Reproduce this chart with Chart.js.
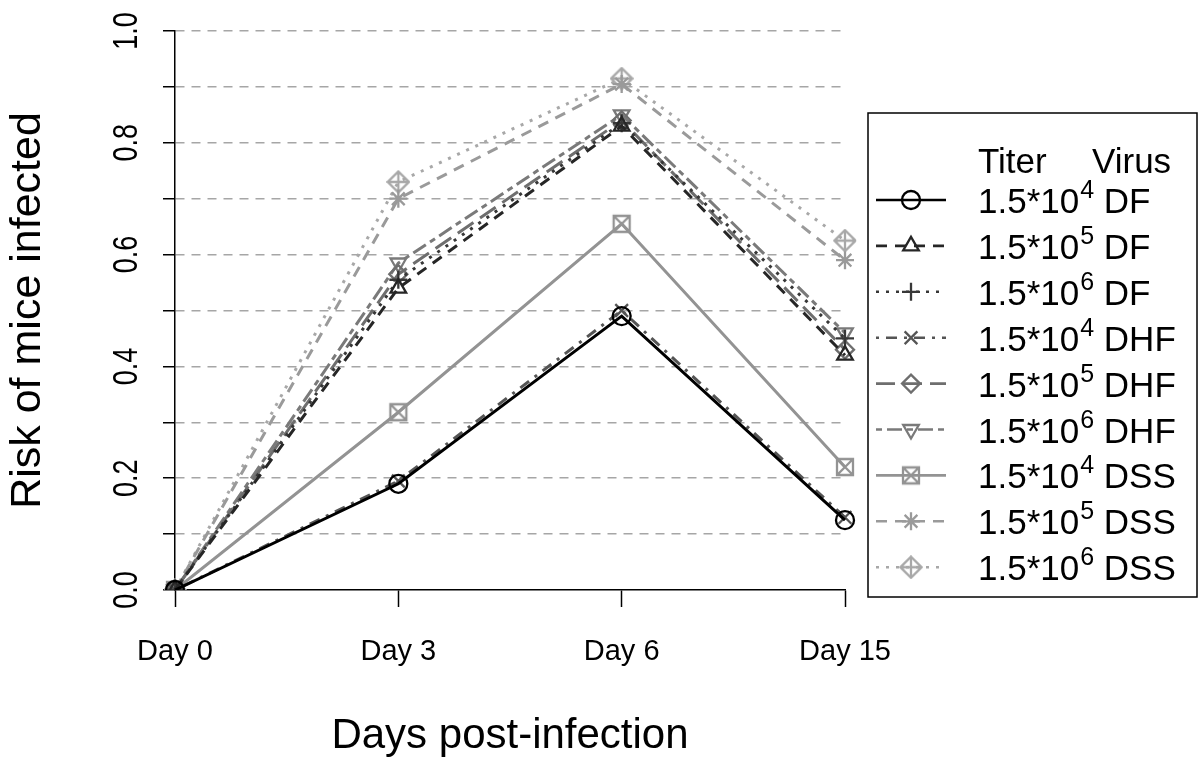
<!DOCTYPE html>
<html>
<head>
<meta charset="utf-8">
<script src="https://cdn.jsdelivr.net/npm/chart.js@4.4.1/dist/chart.umd.min.js"></script>
<style>
  html, body { margin: 0; padding: 0; background: #fff; }
  #chartBox { width: 1200px; height: 763px; }
</style>
</head>
<body>
<div id="chartBox"><canvas id="risk-chart" width="1200" height="763"></canvas></div>
<script>
// x categories and y tick labels
const days = ['Day 0', 'Day 3', 'Day 6', 'Day 15'];
const yTickLabels = ['0.0', '0.2', '0.4', '0.6', '0.8', '1.0'];

// risk of infection
const df1e4 = [0, 0.19, 0.49, 0.125];
const df1e5 = [0, 0.54, 0.83, 0.42];
const df1e6 = [0, 0.555, 0.835, 0.45];
const dhf1e4 = [0, 0.195, 0.50, 0.13];
const dhf1e5 = [0, 0.565, 0.84, 0.43];
const dhf1e6 = [0, 0.585, 0.85, 0.46];
const dss1e4 = [0, 0.318, 0.655, 0.22];
const dss1e5 = [0, 0.70, 0.905, 0.59];
const dss1e6 = [0, 0.73, 0.915, 0.625];

// legend text
const titerExp = ['4', '5', '6', '4', '5', '6', '4', '5', '6'];
const virusNames = ['DF', 'DF', 'DF', 'DHF', 'DHF', 'DHF', 'DSS', 'DSS', 'DSS'];

const FONT = "'Liberation Sans', Arial, sans-serif";

// R style symbols that chart.js does not have
function makeSymbol(kind, color) {
    const c = document.createElement('canvas');
    c.width = 24; c.height = 24;
    const g = c.getContext('2d');
    g.strokeStyle = color;
    g.lineWidth = 2.3;
    g.beginPath();
    if (kind == 'boxX') {
        g.rect(4, 4, 16, 16);
        g.moveTo(4, 4); g.lineTo(20, 20);
        g.moveTo(20, 4); g.lineTo(4, 20);
    } else {
        g.moveTo(12, 1.5); g.lineTo(22.5, 12); g.lineTo(12, 22.5); g.lineTo(1.5, 12); g.closePath();
        g.moveTo(12, 1.5); g.lineTo(12, 22.5);
        g.moveTo(1.5, 12); g.lineTo(22.5, 12);
    }
    g.stroke();
    return c;
}

function series(data, color, dash, style, rotation) {
    return {
        data: data,
        borderColor: color,
        borderWidth: 3,
        borderDash: dash,
        backgroundColor: 'rgba(0,0,0,0)',
        pointStyle: style,
        pointRotation: rotation || 0,
        pointRadius: 9,
        pointHoverRadius: 9,
        pointBorderColor: color,
        pointBackgroundColor: 'rgba(0,0,0,0)',
        pointBorderWidth: 2.3,
        tension: 0
    };
}

const datasets = [
    series(df1e4, '#000000', [], 'circle'),
    series(df1e5, '#262626', [11, 8], 'triangle'),
    series(df1e6, '#383838', [3, 7], 'cross'),
    series(dhf1e4, '#555555', [3, 7, 11, 7], 'crossRot'),
    series(dhf1e5, '#6e6e6e', [19, 8], 'rectRot'),
    series(dhf1e6, '#7a7a7a', [6, 5, 15, 5], 'triangle', 180),
    series(dss1e4, '#939393', [], makeSymbol('boxX', '#939393')),
    series(dss1e5, '#9a9a9a', [11, 8], 'star'),
    series(dss1e6, '#a8a8a8', [3, 7], makeSymbol('diamondPlus', '#a8a8a8'))
];

// rotated y tick labels (R style)
const yLabelPlugin = {
    id: 'yLabels',
    afterDraw(chart) {
        const ctx = chart.ctx;
        const yScale = chart.scales.y;
        ctx.save();
        ctx.fillStyle = '#000';
        ctx.font = '27px ' + FONT;
        ctx.textAlign = 'center';
        ctx.textBaseline = 'middle';
        yTickLabels.forEach(lab => {
            const py = yScale.getPixelForValue(parseFloat(lab));
            ctx.save();
            ctx.translate(127, py);
            ctx.rotate(-Math.PI / 2);
            ctx.scale(1, 1.3);
            ctx.fillText(lab, 0, 0);
            ctx.restore();
        });
        ctx.restore();
    }
};

// boxed legend with superscripts
const legendPlugin = {
    id: 'boxLegend',
    afterDraw(chart) {
        const ctx = chart.ctx;
        const left = 868, top = 113, right = 1197, bottom = 597;
        ctx.save();
        ctx.strokeStyle = '#000';
        ctx.lineWidth = 1.5;
        ctx.strokeRect(left, top, right - left, bottom - top);

        ctx.fillStyle = '#000';
        ctx.textBaseline = 'alphabetic';
        ctx.font = '35px ' + FONT;
        ctx.fillText('Titer', 978, 173);
        ctx.fillText('Virus', 1092, 173);

        const rowStep = 45.9;
        for (let i = 0; i < datasets.length; i++) {
            const ds = datasets[i];
            const cy = 200 + i * rowStep;
            ctx.save();
            ctx.strokeStyle = ds.borderColor;
            ctx.lineWidth = 2.6;
            ctx.setLineDash(ds.borderDash);
            ctx.beginPath();
            ctx.moveTo(876, cy);
            ctx.lineTo(946, cy);
            ctx.stroke();
            ctx.setLineDash([]);
            ctx.fillStyle = 'rgba(0,0,0,0)';
            ctx.lineWidth = 2.3;
            Chart.helpers.drawPoint(ctx, {
                pointStyle: ds.pointStyle,
                rotation: ds.pointRotation,
                radius: 9,
                borderWidth: 2.3
            }, 911, cy);
            ctx.restore();

            const base = cy + 13;
            ctx.font = '35px ' + FONT;
            ctx.fillText('1.5*10', 978, base);
            let x = 978 + ctx.measureText('1.5*10').width;
            ctx.font = '25px ' + FONT;
            ctx.fillText(titerExp[i], x + 1, base - 15);
            x += ctx.measureText(titerExp[i]).width + 1;
            ctx.font = '35px ' + FONT;
            ctx.fillText(' ' + virusNames[i], x, base);
        }
        ctx.restore();
    }
};

const riskChart = new Chart('risk-chart', {
    type: 'line',
    data: {
        labels: days,
        datasets: datasets
    },
    options: {
        responsive: false,
        animation: false,
        events: [],
        layout: {
            padding: { top: 31, right: 355, left: 0, bottom: 0 }
        },
        scales: {
            x: {
                type: 'category',
                offset: false,
                afterFit: scale => { scale.height = 173; },
                grid: {
                    drawOnChartArea: false,
                    drawTicks: true,
                    tickLength: 17,
                    tickColor: '#000',
                    tickWidth: 1.5
                },
                border: { color: '#000', width: 1.5 },
                ticks: {
                    color: '#000',
                    font: { family: FONT, size: 29 },
                    padding: 28,
                    maxRotation: 0,
                    autoSkip: false
                },
                title: {
                    display: true,
                    text: 'Days post-infection',
                    color: '#000',
                    font: { family: FONT, size: 42 },
                    padding: { top: 0, bottom: 1 }
                }
            },
            y: {
                min: 0,
                max: 1,
                afterFit: scale => { scale.width = 175; },
                grid: {
                    color: ctx => ctx.tick && ctx.tick.value == 0 ? 'rgba(0,0,0,0)' : '#a6a6a6',
                    lineWidth: 1.5,
                    drawTicks: true,
                    tickLength: 12,
                    tickColor: '#000',
                    tickWidth: 1.5,
                    tickBorderDash: []
                },
                border: { color: '#000', width: 1.5, dash: [9, 7] },
                ticks: {
                    stepSize: 0.1,
                    callback: () => '',
                    font: { family: FONT, size: 27 }
                },
                title: {
                    display: true,
                    text: 'Risk of mice infected',
                    color: '#000',
                    font: { family: FONT, size: 43 },
                    padding: { top: 2, bottom: 0 }
                }
            }
        },
        plugins: {
            legend: { display: false },
            tooltip: { enabled: false }
        }
    },
    plugins: [yLabelPlugin, legendPlugin]
});
</script>
</body>
</html>
